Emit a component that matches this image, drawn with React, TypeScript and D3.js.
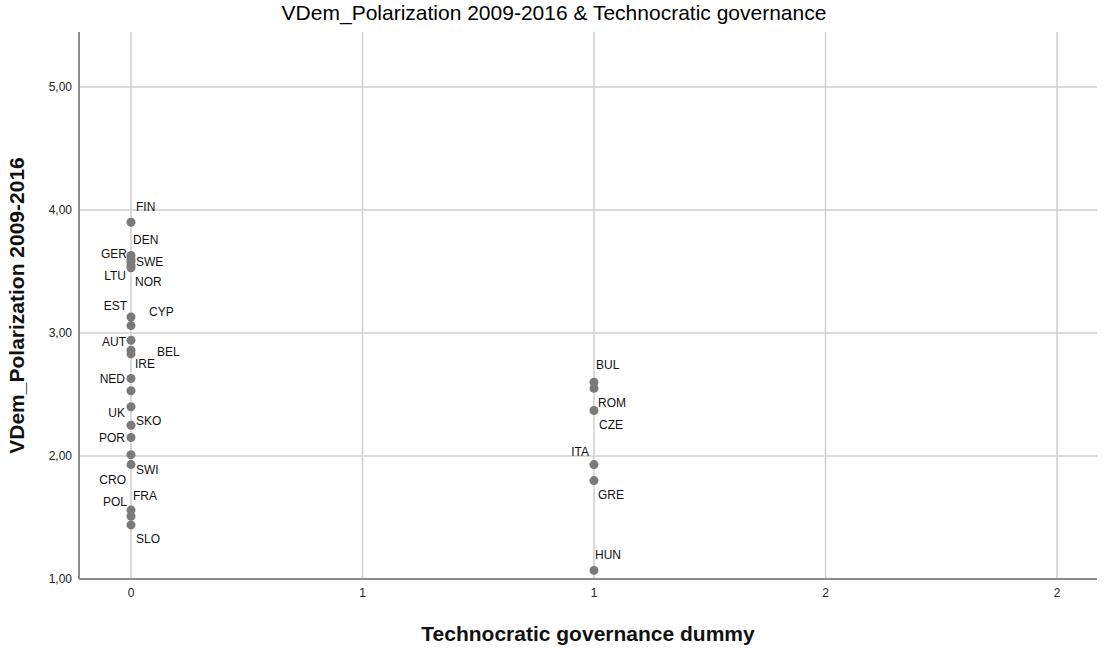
import React, { useEffect, useRef } from 'react';
import * as d3 from 'd3';

// country codes, technocratic dummy (x) and polarization score (y)
const countries = [
  'FIN', 'DEN', 'GER', 'SWE', 'LTU', 'NOR', 'EST', 'CYP', 'AUT', 'IRE', 'BEL',
  'NED', '', 'UK', 'SKO', 'POR', 'CRO', 'SWI', 'FRA', 'POL', 'SLO',
  'BUL', 'ROM', 'CZE', 'ITA', 'GRE', 'HUN',
];
const technocratic = [
  0, 0, 0, 0, 0, 0, 0, 0, 0, 0, 0,
  0, 0, 0, 0, 0, 0, 0, 0, 0, 0,
  1, 1, 1, 1, 1, 1,
];
const polarization = [
  3.9, 3.63, 3.6, 3.58, 3.55, 3.53, 3.13, 3.06, 2.94, 2.86, 2.83,
  2.63, 2.53, 2.4, 2.25, 2.15, 2.01, 1.93, 1.56, 1.51, 1.44,
  2.6, 2.55, 2.37, 1.93, 1.8, 1.07,
];

// label placement relative to each point (px)
const labelDx = [
  5, 2, -4, 5, -5, 4, -4, 18, -5, 4, 26,
  -6, 0, -6, 5, -6, -5, 5, 2, -4, 5,
  2, 4, 5, -5, 4, 1,
];
const labelDy = [
  -15, -16, -5, 0, 10, 14, -11, -14, 1, 14, -2,
  0, 0, 6, -4, 0, 25, 5, -14, -14, 14,
  -17, 14, 14, -13, 14, -16,
];

const xTicks = [0, 0.5, 1, 1.5, 2];
const xTickLabels = ['0', '1', '1', '2', '2'];
const yTicks = [1, 2, 3, 4, 5];
const yTickLabels = ['1,00', '2,00', '3,00', '4,00', '5,00'];

const W = 1109;
const H = 648;
const FONT = 'Liberation Sans, Arial, sans-serif';

export default function App() {
  const ref = useRef<SVGSVGElement>(null);

  useEffect(() => {
    if (!ref.current) return;
    const svg = d3.select(ref.current);
    svg.selectAll('*').remove();

    const left = 79;
    const right = 1097;
    const top = 32;
    const bottom = 579;

    const x = d3.scaleLinear().domain([-0.1123, 2.0864]).range([left, right]);
    const y = d3.scaleLinear().domain([1, 5.447]).range([bottom, top]);

    svg.append('rect').attr('width', W).attr('height', H).attr('fill', '#fff');

    // gridlines
    svg.append('g')
      .selectAll('line')
      .data(xTicks)
      .enter()
      .append('line')
      .attr('x1', (d) => x(d))
      .attr('x2', (d) => x(d))
      .attr('y1', top)
      .attr('y2', bottom)
      .attr('stroke', '#cfcfcf')
      .attr('stroke-width', 1.5);

    svg.append('g')
      .selectAll('line')
      .data(yTicks.filter((d) => d > 1))
      .enter()
      .append('line')
      .attr('x1', left)
      .attr('x2', right)
      .attr('y1', (d) => y(d))
      .attr('y2', (d) => y(d))
      .attr('stroke', '#cfcfcf')
      .attr('stroke-width', 1.5);

    // axes lines
    svg.append('line')
      .attr('x1', left).attr('x2', left)
      .attr('y1', top).attr('y2', bottom)
      .attr('stroke', '#8c8c8c').attr('stroke-width', 2);
    svg.append('line')
      .attr('x1', left).attr('x2', right)
      .attr('y1', bottom).attr('y2', bottom)
      .attr('stroke', '#8c8c8c').attr('stroke-width', 2);

    // tick labels
    svg.append('g')
      .selectAll('text')
      .data(yTicks)
      .enter()
      .append('text')
      .attr('x', left - 7)
      .attr('y', (d) => y(d))
      .attr('dy', '0.35em')
      .attr('text-anchor', 'end')
      .style('font-family', FONT)
      .style('font-size', '12px')
      .style('fill', '#222')
      .text((d, i) => yTickLabels[i]);

    svg.append('g')
      .selectAll('text')
      .data(xTicks)
      .enter()
      .append('text')
      .attr('x', (d) => x(d))
      .attr('y', bottom + 14)
      .attr('dy', '0.35em')
      .attr('text-anchor', 'middle')
      .style('font-family', FONT)
      .style('font-size', '12px')
      .style('fill', '#222')
      .text((d, i) => xTickLabels[i]);

    const pts = countries.map((name, i) => ({
      name,
      xv: technocratic[i],
      yv: polarization[i],
      dx: labelDx[i],
      dy: labelDy[i],
    }));

    // points
    svg.append('g')
      .selectAll('circle')
      .data(pts)
      .enter()
      .append('circle')
      .attr('cx', (d) => x(d.xv))
      .attr('cy', (d) => y(d.yv))
      .attr('r', 4.5)
      .attr('fill', '#7a7a7a');

    // point labels
    svg.append('g')
      .selectAll('text')
      .data(pts.filter((d) => d.name))
      .enter()
      .append('text')
      .attr('x', (d) => x(d.xv) + d.dx)
      .attr('y', (d) => y(d.yv) + d.dy)
      .attr('dy', '0.35em')
      .attr('text-anchor', (d) => (d.dx < 0 ? 'end' : 'start'))
      .style('font-family', FONT)
      .style('font-size', '12px')
      .style('fill', '#111')
      .text((d) => d.name);

    // titles
    svg.append('text')
      .attr('x', 554)
      .attr('y', 13)
      .attr('dy', '0.35em')
      .attr('text-anchor', 'middle')
      .style('font-family', FONT)
      .style('font-size', '21px')
      .style('fill', '#000')
      .text('VDem_Polarization 2009-2016 & Technocratic governance');

    svg.append('text')
      .attr('x', 588)
      .attr('y', 634)
      .attr('dy', '0.35em')
      .attr('text-anchor', 'middle')
      .style('font-family', FONT)
      .style('font-size', '21px')
      .style('font-weight', 'bold')
      .style('fill', '#111')
      .text('Technocratic governance dummy');

    svg.append('text')
      .attr('transform', `translate(17,${(top + bottom) / 2}) rotate(-90)`)
      .attr('dy', '0.35em')
      .attr('text-anchor', 'middle')
      .style('font-family', FONT)
      .style('font-size', '21px')
      .style('font-weight', 'bold')
      .style('fill', '#111')
      .text('VDem_Polarization 2009-2016');
  }, []);

  return (
    <svg
      ref={ref}
      width={W}
      height={H}
      style={{ position: 'absolute', left: 0, top: 0, display: 'block' }}
    />
  );
}
